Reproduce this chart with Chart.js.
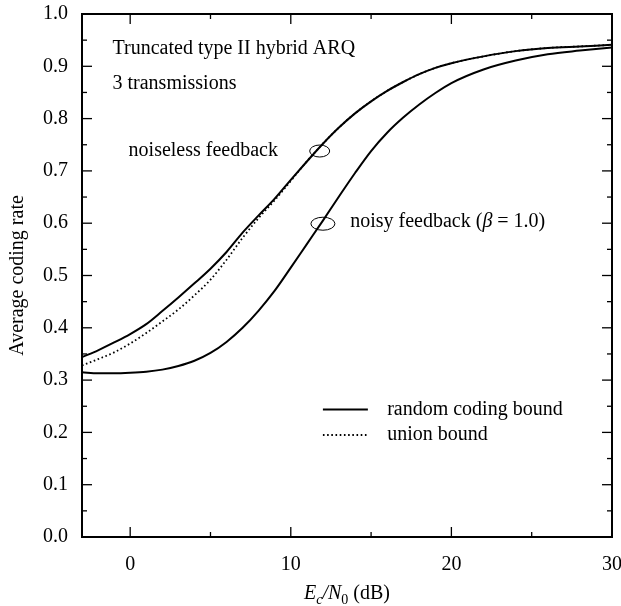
<!DOCTYPE html>
<html>
<head>
<meta charset="utf-8">
<script src="https://cdn.jsdelivr.net/npm/chart.js@4.4.1/dist/chart.umd.min.js"></script>
<style>
  html, body { margin: 0; padding: 0; background: #fff; }
</style>
</head>
<body>
<canvas id="chart" width="621" height="606"></canvas>
<script>
// Average coding rate vs Ec/N0, truncated type II hybrid ARQ, 3 transmissions.
const FONT = '"Liberation Serif", "DejaVu Serif", serif';

const ecN0 = [-3, -2, -1, 0, 1, 2, 3, 4, 5, 6, 7, 8, 9, 10, 11, 12, 13, 14, 15, 16, 17, 18, 19, 20, 22, 24, 26, 28, 30];
const noiselessRandom = [0.344, 0.357, 0.372, 0.388, 0.407, 0.432, 0.458, 0.485, 0.513, 0.545, 0.582, 0.615, 0.647, 0.683, 0.718, 0.752, 0.783, 0.810, 0.833, 0.853, 0.870, 0.885, 0.897, 0.906, 0.919, 0.929, 0.935, 0.938, 0.941];
const noiselessUnion = [0.328, 0.340, 0.353, 0.370, 0.390, 0.412, 0.435, 0.462, 0.492, 0.530, 0.572, 0.610, 0.644, 0.681, 0.718, 0.752, 0.783, 0.810, 0.833, 0.853, 0.870, 0.885, 0.897, 0.906, 0.919, 0.929, 0.935, 0.938, 0.941];
const noisyRandom = [0.315, 0.313, 0.313, 0.314, 0.316, 0.320, 0.327, 0.337, 0.352, 0.373, 0.400, 0.433, 0.471, 0.515, 0.560, 0.605, 0.651, 0.696, 0.738, 0.773, 0.802, 0.827, 0.849, 0.868, 0.894, 0.911, 0.923, 0.930, 0.936];

const xMajorTicks = [0, 10, 20, 30];
const xMinorTicks = [5, 15, 25];
const yMajorTicks = [0, 0.1, 0.2, 0.3, 0.4, 0.5, 0.6, 0.7, 0.8, 0.9, 1.0];
const yMinorTicks = [0.05, 0.15, 0.25, 0.35, 0.45, 0.55, 0.65, 0.75, 0.85, 0.95];

// text notes, placed in data units
const notes = [
  { text: 'Truncated type II hybrid ARQ', x: -1.1, y: 0.934 },
  { text: '3 transmissions', x: -1.1, y: 0.866 },
  { text: 'noiseless feedback', x: -0.1, y: 0.739 },
];
const ellipses = [
  { x: 11.8, y: 0.738, rx: 10, ry: 6 },
  { x: 12.0, y: 0.599, rx: 12, ry: 6.5 },
];

const toXY = (xs, ys) => xs.map((x, i) => ({ x, y: ys[i] }));

const decorations = {
  id: 'decorations',
  afterDatasetsDraw(chart) {
    const { ctx, chartArea: a, scales: { x, y } } = chart;
    ctx.save();
    ctx.strokeStyle = '#000';
    ctx.fillStyle = '#000';

    // frame
    ctx.lineWidth = 2;
    ctx.strokeRect(a.left, a.top, a.right - a.left, a.bottom - a.top);

    // inward ticks on all four sides
    ctx.lineWidth = 1.3;
    const seg = (x1, y1, x2, y2) => { ctx.beginPath(); ctx.moveTo(x1, y1); ctx.lineTo(x2, y2); ctx.stroke(); };
    const xt = (list, len) => list.forEach(v => {
      const p = x.getPixelForValue(v);
      seg(p, a.bottom, p, a.bottom - len);
      seg(p, a.top, p, a.top + len);
    });
    const yt = (list, len) => list.forEach(v => {
      const p = y.getPixelForValue(v);
      seg(a.left, p, a.left + len, p);
      seg(a.right, p, a.right - len, p);
    });
    xt(xMajorTicks, 10); xt(xMinorTicks, 5);
    yt(yMajorTicks, 10); yt(yMinorTicks, 5);

    // notes
    ctx.font = '20px ' + FONT;
    ctx.textBaseline = 'middle';
    ctx.textAlign = 'left';
    notes.forEach(n => ctx.fillText(n.text, x.getPixelForValue(n.x), y.getPixelForValue(n.y)));

    // noisy feedback (beta = 1.0), beta in italics
    let px = x.getPixelForValue(13.7), py = y.getPixelForValue(0.603);
    const parts = [['noisy feedback (', ''], ['\u03B2', 'italic '], [' = 1.0)', '']];
    parts.forEach(([t, st]) => {
      ctx.font = st + '20px ' + FONT;
      ctx.fillText(t, px, py);
      px += ctx.measureText(t).width;
    });

    // ellipses
    ctx.lineWidth = 1;
    ellipses.forEach(e => {
      ctx.beginPath();
      ctx.ellipse(x.getPixelForValue(e.x), y.getPixelForValue(e.y), e.rx, e.ry, 0, 0, Math.PI * 2);
      ctx.stroke();
    });

    // legend
    const ds = chart.data.datasets;
    const items = [[ds[0], 'random coding bound', 0.244], [ds[1], 'union bound', 0.195]];
    ctx.font = '20px ' + FONT;
    items.forEach(([d, label, v]) => {
      const py2 = y.getPixelForValue(v);
      ctx.save();
      ctx.lineWidth = d.borderWidth;
      ctx.setLineDash(d.borderDash || []);
      seg(x.getPixelForValue(12.0), py2, x.getPixelForValue(14.8), py2);
      ctx.restore();
      ctx.fillText(label, x.getPixelForValue(16.0), py2);
    });

    // x axis title: Ec/N0 (dB)
    const cx = (a.left + a.right) / 2;
    const base = chart.height - 7;
    const run = [['E', 'italic ', 20, 0], ['c', 'italic ', 14, 5], ['/N', 'italic ', 20, 0], ['0', '', 14, 5], [' (dB)', '', 20, 0]];
    let w = 0;
    run.forEach(([t, st, s]) => { ctx.font = st + s + 'px ' + FONT; w += ctx.measureText(t).width; });
    let tx = cx - w / 2;
    ctx.textBaseline = 'alphabetic';
    run.forEach(([t, st, s, dy]) => {
      ctx.font = st + s + 'px ' + FONT;
      ctx.fillText(t, tx, base + dy);
      tx += ctx.measureText(t).width;
    });
    ctx.restore();
  }
};

new Chart(document.getElementById('chart'), {
  type: 'line',
  data: {
    datasets: [
      { label: 'noiseless, random coding bound', data: toXY(ecN0, noiselessRandom), borderColor: '#000', borderWidth: 2, pointRadius: 0, cubicInterpolationMode: 'monotone' },
      { label: 'noiseless, union bound', data: toXY(ecN0, noiselessUnion), borderColor: '#000', borderWidth: 1.8, borderDash: [1.6, 2.6], pointRadius: 0, cubicInterpolationMode: 'monotone' },
      { label: 'noisy, random coding bound', data: toXY(ecN0, noisyRandom), borderColor: '#000', borderWidth: 2, pointRadius: 0, cubicInterpolationMode: 'monotone' },
    ],
  },
  options: {
    responsive: false,
    devicePixelRatio: 1,
    animation: false,
    layout: { padding: { top: 14, right: 9, left: 0, bottom: 0 } },
    plugins: { legend: { display: false }, tooltip: { enabled: false } },
    scales: {
      x: {
        type: 'linear', min: -3, max: 30,
        grid: { display: false, drawTicks: false }, border: { display: false },
        afterBuildTicks: s => { s.ticks = xMajorTicks.map(v => ({ value: v })); },
        afterFit: s => { s.height = 69; s.paddingLeft = 0; s.paddingRight = 0; },
        ticks: { color: '#000', font: { family: FONT, size: 20 }, padding: 16, maxRotation: 0 },
      },
      y: {
        type: 'linear', min: 0, max: 1,
        grid: { display: false, drawTicks: false }, border: { display: false },
        afterBuildTicks: s => { s.ticks = yMajorTicks.map(v => ({ value: v })); },
        afterFit: s => { s.width = 82; s.paddingTop = 0; s.paddingBottom = 0; },
        ticks: { color: '#000', font: { family: FONT, size: 20 }, padding: 14, callback: v => v.toFixed(1) },
        title: { display: true, text: 'Average coding rate', color: '#000', font: { family: FONT, size: 20 }, padding: { top: 6, bottom: 0 } },
      },
    },
  },
  plugins: [decorations],
});
</script>
</body>
</html>
